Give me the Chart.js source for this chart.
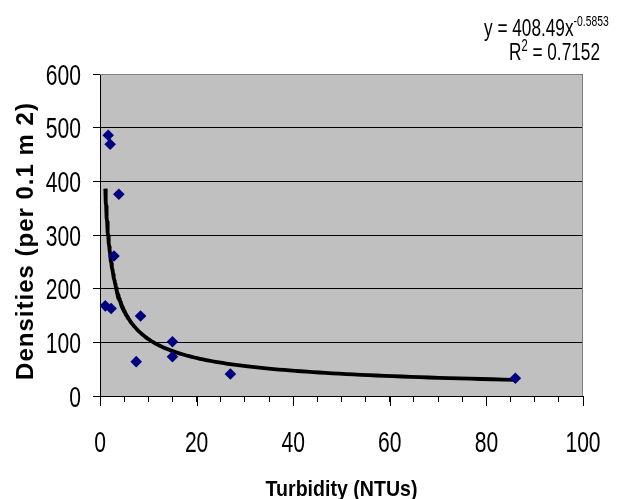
<!DOCTYPE html>
<html>
<head>
<meta charset="utf-8">
<script src="https://cdn.jsdelivr.net/npm/chart.js@4"></script>
<style>
  html, body { margin: 0; padding: 0; background: #fff; }
  canvas { display: block; }
</style>
</head>
<body>
<canvas id="densityChart" width="624" height="499"></canvas>
<script>
// field samples: turbidity (NTUs) vs. densities (per 0.1 m2)
const turbidity = [1.1, 1.7, 2.1, 2.3, 2.9, 3.9, 7.5, 8.4, 15.0, 15.0, 27.0, 86.0];
const densities = [168, 486, 469, 163, 261, 376, 64, 149, 101, 73, 41, 33];

// power trendline as reported: y = a * x^b
const trendA = 408.49;
const trendB = -0.5853;
const trendLabel = 'y = 408.49x';
const trendExpLabel = '-0.5853';
const rSquaredLabel = '0.7152';

const xTicks = [0, 20, 40, 60, 80, 100];
const yTicks = [0, 100, 200, 300, 400, 500, 600];

const sans = "'Liberation Sans', Arial, sans-serif";

const points = turbidity.map((x, i) => ({ x: x, y: densities[i] }));

// sample the fitted curve across the measured range
const xMin = Math.min(...turbidity);
const xMax = Math.max(...turbidity);
const trendPoints = [];
for (let i = 0; i <= 150; i++) {
  const x = xMin * Math.pow(xMax / xMin, i / 150);
  trendPoints.push({ x: x, y: trendA * Math.pow(x, trendB) });
}

// condensed text: squeeze horizontally, stretch a little vertically
function narrowText(ctx, text, x, y, font, align, sx, sy) {
  ctx.save();
  ctx.translate(x, y);
  ctx.scale(sx, sy);
  ctx.font = font;
  ctx.textAlign = align;
  ctx.textBaseline = 'alphabetic';
  ctx.fillText(text, 0, 0);
  const w = ctx.measureText(text).width * sx;
  ctx.restore();
  return w;
}

const plotFrame = {
  id: 'plotFrame',
  beforeDraw(chart) {
    const { ctx, chartArea: a } = chart;
    ctx.save();
    ctx.fillStyle = '#c0c0c0';
    ctx.fillRect(a.left, a.top, a.right - a.left, a.bottom - a.top);
    ctx.restore();
  },
  afterDraw(chart) {
    const { ctx, chartArea: a } = chart;
    const xs = chart.scales.x;
    ctx.save();
    // grey frame on top and right
    ctx.strokeStyle = '#808080';
    ctx.lineWidth = 1;
    ctx.beginPath();
    ctx.moveTo(a.left, a.top + 0.5);
    ctx.lineTo(a.right - 0.5, a.top + 0.5);
    ctx.lineTo(a.right - 0.5, a.bottom);
    ctx.stroke();
    // longer marks for the labelled x ticks
    ctx.strokeStyle = '#000';
    ctx.beginPath();
    xTicks.forEach(v => {
      const px = Math.round(xs.getPixelForValue(v)) + 0.5;
      ctx.moveTo(px, a.bottom);
      ctx.lineTo(px, a.bottom + 10);
    });
    ctx.stroke();
    ctx.restore();
  }
};

const chartText = {
  id: 'chartText',
  afterDraw(chart) {
    const { ctx, chartArea: a } = chart;
    const xs = chart.scales.x;
    const ys = chart.scales.y;
    ctx.save();
    ctx.fillStyle = '#000';

    // tick labels
    xTicks.forEach(v => {
      narrowText(ctx, String(v), xs.getPixelForValue(v), 452, '27px ' + sans, 'center', 0.78, 1.1);
    });
    yTicks.forEach(v => {
      narrowText(ctx, String(v), 81, ys.getPixelForValue(v) + 10.5, '27px ' + sans, 'right', 0.78, 1.1);
    });

    // y axis title, letter-spaced
    ctx.save();
    ctx.translate(26, 241);
    ctx.rotate(-Math.PI / 2);
    ctx.font = 'bold 24px ' + sans;
    ctx.letterSpacing = '1px';
    ctx.textAlign = 'center';
    ctx.textBaseline = 'middle';
    ctx.fillText('Densities (per 0.1 m 2)', 0, 0);
    ctx.restore();

    // x axis title
    narrowText(ctx, 'Turbidity (NTUs)', (a.left + a.right) / 2, 496, 'bold 22px ' + sans, 'center', 0.89, 1.02);

    // trendline equation
    let x = 484;
    x += narrowText(ctx, trendLabel, x, 36, '21px ' + sans, 'left', 0.82, 1.12);
    narrowText(ctx, trendExpLabel, x, 26, '13px ' + sans, 'left', 0.8, 1.12);

    x = 509;
    x += narrowText(ctx, 'R', x, 60, '21px ' + sans, 'left', 0.82, 1.12);
    x += narrowText(ctx, '2', x, 51, '14px ' + sans, 'left', 0.8, 1.12);
    narrowText(ctx, ' = ' + rSquaredLabel, x, 60, '21px ' + sans, 'left', 0.82, 1.12);
    ctx.restore();
  }
};

const ctx = document.getElementById('densityChart').getContext('2d');

new Chart(ctx, {
  type: 'scatter',
  data: {
    datasets: [
      {
        label: 'Densities',
        data: points,
        pointStyle: 'rectRot',
        pointRadius: 5.8,
        backgroundColor: '#000080',
        borderColor: '#000080',
        borderWidth: 0,
        order: 0
      },
      {
        type: 'line',
        label: 'Power trend',
        data: trendPoints,
        borderColor: '#000',
        borderWidth: 3.8,
        pointRadius: 0,
        fill: false,
        tension: 0,
        order: 1
      }
    ]
  },
  options: {
    responsive: false,
    animation: false,
    layout: { padding: { top: 74, right: 41, left: 0, bottom: 0 } },
    plugins: {
      legend: { display: false },
      tooltip: { enabled: false }
    },
    scales: {
      x: {
        type: 'linear',
        min: 0,
        max: 100,
        afterFit: s => { s.height = 103; },
        ticks: {
          stepSize: 5,
          autoSkip: false,
          maxRotation: 0,
          display: false
        },
        grid: { drawOnChartArea: false, tickLength: 6, color: '#000' },
        border: { color: '#000', width: 1 }
      },
      y: {
        min: 0,
        max: 600,
        afterFit: s => { s.width = 100; },
        afterBuildTicks: s => { s.ticks = yTicks.map(v => ({ value: v })); },
        ticks: { display: false },
        grid: { color: '#000', tickLength: 7 },
        border: { color: '#000', width: 1 }
      }
    }
  },
  plugins: [plotFrame, chartText]
});
</script>
</body>
</html>
